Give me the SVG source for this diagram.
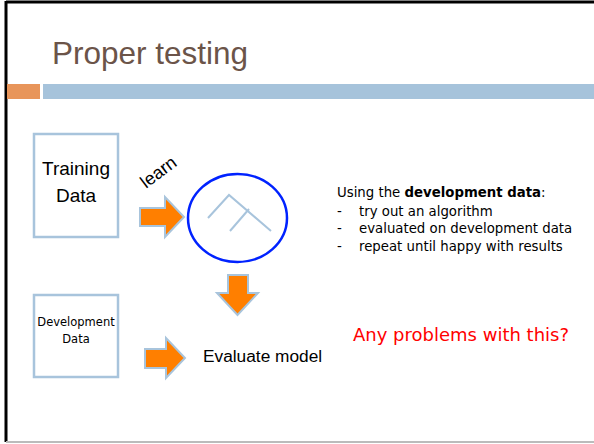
<svg xmlns="http://www.w3.org/2000/svg" width="594" height="444" viewBox="0 0 594 444">
<style>
text{font-family:"Liberation Sans","DejaVu Sans",sans-serif;fill:#000}
.dv{font-family:"DejaVu Sans","Liberation Sans",sans-serif}
.box{fill:#fff;stroke:#a8c4dc;stroke-width:2.5}
.arr{fill:#ff7f00;stroke:#a8c4dc;stroke-width:2;stroke-linejoin:miter}
.tree{fill:none;stroke:#a8c4dc;stroke-width:2}
</style>
<rect width="594" height="444" fill="#fff"/>
<line x1="6" y1="2" x2="594" y2="2" stroke="#000" stroke-width="3"/>
<line x1="6" y1="1" x2="6" y2="442" stroke="#000" stroke-width="3"/>
<line x1="6" y1="442" x2="594" y2="442" stroke="#bbb" stroke-width="2"/>
<rect x="7" y="84" width="33" height="15" fill="#e8955a"/>
<rect x="43" y="84" width="551" height="15" fill="#a6c3db"/>
<text x="52" y="64" font-size="31.5" style="fill:#6b5449">Proper testing</text>

<g id="training">
<rect class="box" x="34" y="134" width="84" height="103"/>
<text x="76" y="175" font-size="19" text-anchor="middle">Training</text>
<text x="76" y="202" font-size="19" text-anchor="middle">Data</text>
</g>

<g id="model">
<ellipse cx="237.5" cy="218" rx="49.5" ry="44" fill="#fff" stroke="#0022ff" stroke-width="2.5"/>
<polyline class="tree" points="208,218 229,195 271,231"/>
<line class="tree" x1="249" y1="209" x2="230" y2="231"/>
</g>

<g id="dev">
<rect class="box" x="34" y="295" width="84" height="82"/>
<text class="dv" x="76" y="326" font-size="11.5" text-anchor="middle">Development</text>
<text class="dv" x="76" y="343" font-size="11.5" text-anchor="middle">Data</text>
</g>

<g id="evaluate">
<text x="203" y="362" font-size="17.3">Evaluate model</text>
</g>

<g id="notes" class="dv" font-size="13.3">
<text class="dv" x="337" y="197">Using the <tspan font-weight="bold">development data</tspan>:</text>
<text class="dv" x="337" y="216">-</text>
<text class="dv" x="359" y="216">try out an algorithm</text>
<text class="dv" x="337" y="233">-</text>
<text class="dv" x="359" y="233">evaluated on development data</text>
<text class="dv" x="337" y="251">-</text>
<text class="dv" x="359" y="251">repeat until happy with results</text>
</g>

<g id="question">
<text class="dv" x="353" y="341" font-size="18" style="fill:#ff0000">Any problems with this?</text>
</g>

<g id="connectors">
<polygon class="arr" points="140,208 165,208 165,197 184,217 165,237 165,226 140,226"/>
<text x="0" y="0" font-size="18" transform="translate(146,189) rotate(-37)">learn</text>
<polygon class="arr" points="228,275 248,275 248,293 258,293 237.5,315 217,293 228,293"/>
<polygon class="arr" points="145,349 166,349 166,338 185,358 166,378 166,368 145,368"/>
</g>
</svg>
